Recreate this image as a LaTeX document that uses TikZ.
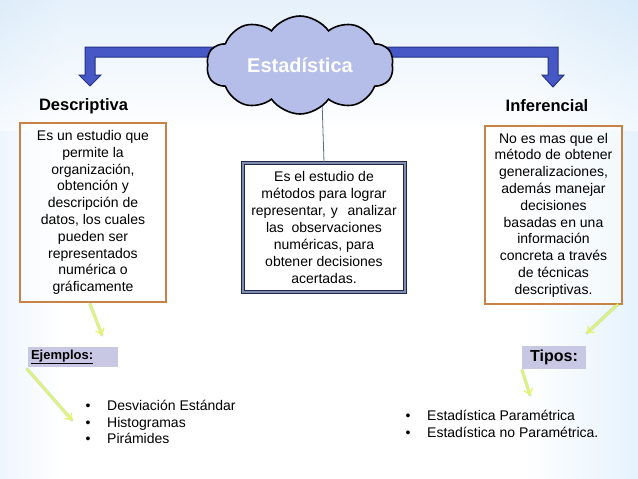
\documentclass[tikz,border=0pt]{standalone}
\usepackage{fontspec}
\setmainfont{Liberation Sans}
\usetikzlibrary{shapes.symbols,arrows.meta}
\definecolor{bgL}{RGB}{150,200,240}
\definecolor{bgR}{RGB}{160,208,245}
\definecolor{bgT}{RGB}{205,228,248}
\definecolor{barFill}{RGB}{70,88,198}
\definecolor{barLine}{RGB}{38,50,130}
\definecolor{cloudFill}{RGB}{180,190,232}
\definecolor{boxBorder}{RGB}{200,130,70}
\definecolor{cboxOut}{RGB}{30,40,75}
\definecolor{cboxIn}{RGB}{130,140,172}
\definecolor{tagFill}{RGB}{200,200,228}
\definecolor{glow}{RGB}{150,205,70}
\definecolor{arrowY}{RGB}{232,244,100}
\definecolor{connGray}{RGB}{95,105,130}
\pgfdeclarehorizontalshading{bgshade}{100bp}{color(0bp)=(bgL); color(30bp)=(white); color(66bp)=(white); color(100bp)=(bgR)}
\begin{document}
\begin{tikzpicture}[x=1pt,y=-1pt,
  descbox/.style={draw=boxBorder, line width=1.1pt, fill=white, fill opacity=0.45, text opacity=1,
    align=center, inner sep=0pt, font=\fontsize{14}{16.8}\selectfont},
  centerbox/.style={draw=cboxOut, double=cboxIn, double distance=1.1pt, line width=1.9pt,
    fill=white, fill opacity=0.6, text opacity=1, align=center, inner sep=0pt,
    font=\fontsize{14}{16.9}\selectfont},
  titletext/.style={font=\fontsize{16.5}{19}\selectfont\bfseries, inner sep=0pt},
  tagbox/.style={fill=tagFill, inner sep=3pt, font=\bfseries},
  itemtext/.style={anchor=base west, inner sep=0pt, font=\fontsize{14}{17}\selectfont},
  cloudnode/.style={cloud, cloud puffs=10, cloud puff arc=110, cloud ignores aspect, draw=black,
    line width=1.6pt, fill=cloudFill, inner sep=0pt, minimum width=187pt, minimum height=98pt,
    text=white, font=\fontsize{20}{24}\selectfont\bfseries},
  blockarrow/.style={fill=barFill, draw=barLine, line width=1pt, line join=miter},
  glowline/.style={draw=glow, opacity=0.4, line width=3.4pt, line cap=round},
  yarrow/.style={draw=arrowY, line width=1.3pt, -{Straight Barb[length=5pt,width=9pt]}},
  thinline/.style={draw=connGray, line width=0.8pt}
]
\useasboundingbox (0,0) rectangle (638,479);
% background
\shade[shading=bgshade] (0,0) rectangle (638,479);
\shade[top color=bgT, bottom color=white, opacity=0.5] (0,0) rectangle (638,130);

% blue block arrows (behind the cloud)
\path[blockarrow] (250,47) -- (85,47) -- (85,75) -- (79,75) -- (90,86) -- (101,75) -- (95,75) -- (95,57) -- (250,57);
\path[blockarrow] (350,47) -- (558,47) -- (558,75) -- (564,75) -- (553,87) -- (542,75) -- (548,75) -- (548,57) -- (350,57);

% titles
\node[titletext] (desc) at (83.5,106) {Descriptiva};
\node[titletext] (infe) at (547,106) {Inferencial};

% boxes
\node[descbox, minimum width=146pt, minimum height=179pt] (lbox) at (93,212.5)
  {Es un estudio que\\permite la\\organización,\\obtención y\\descripción de\\datos, los cuales\\pueden ser\\representados\\numérica o\\gráficamente};
\node[descbox, minimum width=137pt, minimum height=178pt] (rbox) at (553.5,215)
  {No es mas que el\\método de obtener\\generalizaciones,\\además manejar\\decisiones\\basadas en una\\información\\concreta a través\\de técnicas\\descriptivas.};
\node[centerbox, minimum width=162pt, minimum height=129pt] (cbox) at (324,227.5)
  {Es el estudio de\\métodos para lograr\\representar,\hspace{0.35em}y\hspace{0.7em}analizar\\las\hspace{0.55em}observaciones\\numéricas, para\\obtener decisiones\\acertadas.};

% connector cloud -> center box (drawn under the cloud)
\coordinate (cl) at (322,100);
\draw[thinline] (cl) -- (cbox.north);

% cloud
\node[cloudnode] (est) at (300,65) {Estadística};

% tag boxes
\node[tagbox, minimum width=90pt, minimum height=20pt, text width=84pt, align=left,
  font=\fontsize{13}{15}\selectfont\bfseries] (ej) at (73,357) {\underline{Ejemplos:}};
\node[tagbox, minimum width=64pt, minimum height=23pt,
  font=\fontsize{16}{18}\selectfont\bfseries] (tip) at (554,357.5) {Tipos:};

% yellow arrows
\coordinate (a1s) at (90,304);  \coordinate (a1e) at (102,335);
\coordinate (a2s) at (27,369);  \coordinate (a2e) at (72,420);
\coordinate (a3s) at (618,304); \coordinate (a3e) at (587,333);
\coordinate (a4s) at (522,370); \coordinate (a4e) at (530,395);
\foreach \s/\e in {a1s/a1e,a2s/a2e,a3s/a3e,a4s/a4e}{
  \draw[glowline] (\s) -- (\e);
  \draw[yarrow] (\s) -- (\e);
}

% bullet lists
\node[itemtext] (l1) at (85.5,410) {\makebox[21.5pt][l]{•}Desviación Estándar};
\node[itemtext] (l2) at (85.5,427) {\makebox[21.5pt][l]{•}Histogramas};
\node[itemtext] (l3) at (85.5,443) {\makebox[21.5pt][l]{•}Pirámides};
\node[itemtext] (r1) at (405.5,420) {\makebox[21.5pt][l]{•}Estadística Paramétrica};
\node[itemtext] (r2) at (405.5,437) {\makebox[21.5pt][l]{•}Estadística no Paramétrica.};
\end{tikzpicture}
\end{document}
